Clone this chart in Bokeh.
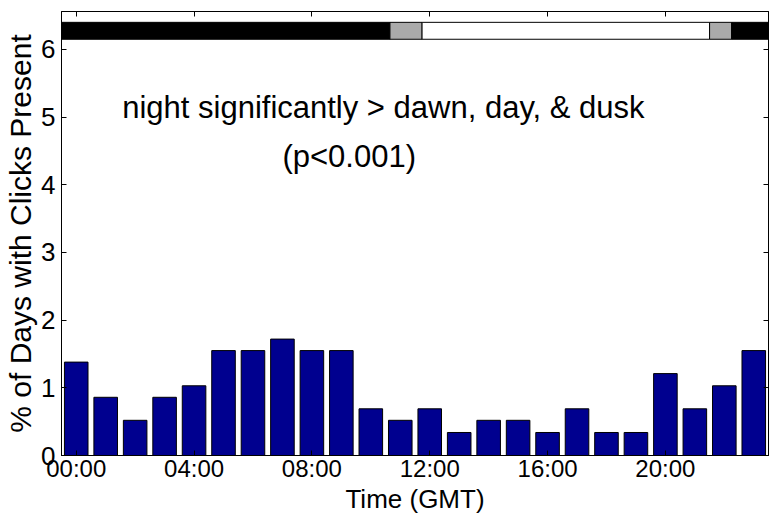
from bokeh.plotting import figure
from bokeh.models import Range1d, FixedTicker, LinearAxis
from bokeh.embed import file_html
from bokeh.resources import INLINE
from bokeh.core.properties import value

# ---- data ----
hours = list(range(24))
pct_days = [1.38, 0.86, 0.52, 0.86, 1.03, 1.55, 1.55, 1.72, 1.55, 1.55, 0.69, 0.52,
            0.69, 0.34, 0.52, 0.52, 0.34, 0.69, 0.34, 0.34, 1.21, 0.69, 1.03, 1.55]
tick_hours = [0, 4, 8, 12, 16, 20]
tick_labels = ["00:00", "04:00", "08:00", "12:00", "16:00", "20:00"]
y_ticks = [0, 1, 2, 3, 4, 5, 6]

# light-period strip (night / dawn / day / dusk / night)
period_start = [-0.5, 10.65, 11.74, 21.5, 22.25]
period_end = [10.65, 11.74, 21.5, 22.25, 23.5]
period_color = ["#000000", "#aaaaaa", "#ffffff", "#aaaaaa", "#000000"]
strip_bottom = 6.15
strip_top = 6.40

notes = ["night significantly > dawn, day, & dusk", "(p<0.001)"]
note_x = [1.56, 7.0]
note_y = [5.14, 4.42]

FONT = "Liberation Sans"

p = figure(frame_width=707, frame_height=444,
           min_border_left=61, min_border_right=2, min_border_top=11, min_border_bottom=59,
           x_range=Range1d(-0.5, 23.5), y_range=Range1d(0, 6.56),
           output_backend="svg", toolbar_location=None,
           background_fill_color="white", border_fill_color="white")
p.grid.visible = False
p.outline_line_color = "black"
p.outline_line_width = 1

p.vbar(x=hours, top=pct_days, width=0.8, bottom=0,
       fill_color="#00008F", line_color="black", line_width=1)

p.quad(left=period_start, right=period_end, bottom=strip_bottom, top=strip_top,
       fill_color=period_color, line_color="black", line_width=1)

p.text(x=note_x, y=note_y, text=notes, text_font=value(FONT), text_font_size="31px",
       text_align="left", text_baseline="alphabetic", text_color="black")

# bottom axis
xa = p.xaxis[0]
xa.ticker = FixedTicker(ticks=tick_hours)
xa.major_label_overrides = {h: l for h, l in zip(tick_hours, tick_labels)}
xa.axis_label = "Time (GMT)"
xa.axis_label_text_font = FONT
xa.axis_label_text_font_style = "normal"
xa.axis_label_text_font_size = "26px"
xa.axis_label_standoff = -1
xa.major_label_text_font = FONT
xa.major_label_text_font_size = "24px"
xa.major_label_standoff = -1

# left axis
ya = p.yaxis[0]
ya.ticker = FixedTicker(ticks=y_ticks)
ya.axis_label = "% of Days with Clicks Present"
ya.axis_label_text_font = FONT
ya.axis_label_text_font_style = "normal"
ya.axis_label_text_font_size = "30px"
ya.axis_label_standoff = 1
ya.major_label_text_font = FONT
ya.major_label_text_font_size = "26px"
ya.major_label_standoff = 6

for ax in (xa, ya):
    ax.axis_line_color = "black"
    ax.major_tick_line_color = "black"
    ax.major_tick_in = 5
    ax.major_tick_out = 0
    ax.minor_tick_line_color = None
    ax.major_label_text_color = "black"
    ax.axis_label_text_color = "black"

# top and right axes: ticks only, no labels
top = LinearAxis(ticker=FixedTicker(ticks=tick_hours),
                 major_label_overrides={h: "" for h in tick_hours},
                 major_label_text_color=None, major_label_text_font_size="0px",
                 major_label_standoff=0, major_tick_in=5, major_tick_out=0,
                 minor_tick_line_color=None, axis_line_color="black",
                 major_tick_line_color="black")
right = LinearAxis(ticker=FixedTicker(ticks=y_ticks),
                   major_label_overrides={t: "" for t in y_ticks},
                   major_label_text_color=None, major_label_text_font_size="0px",
                   major_label_standoff=0, major_tick_in=5, major_tick_out=0,
                   minor_tick_line_color=None, axis_line_color="black",
                   major_tick_line_color="black")
p.add_layout(top, "above")
p.add_layout(right, "right")

open("out.html", "w").write(file_html(p, INLINE))
